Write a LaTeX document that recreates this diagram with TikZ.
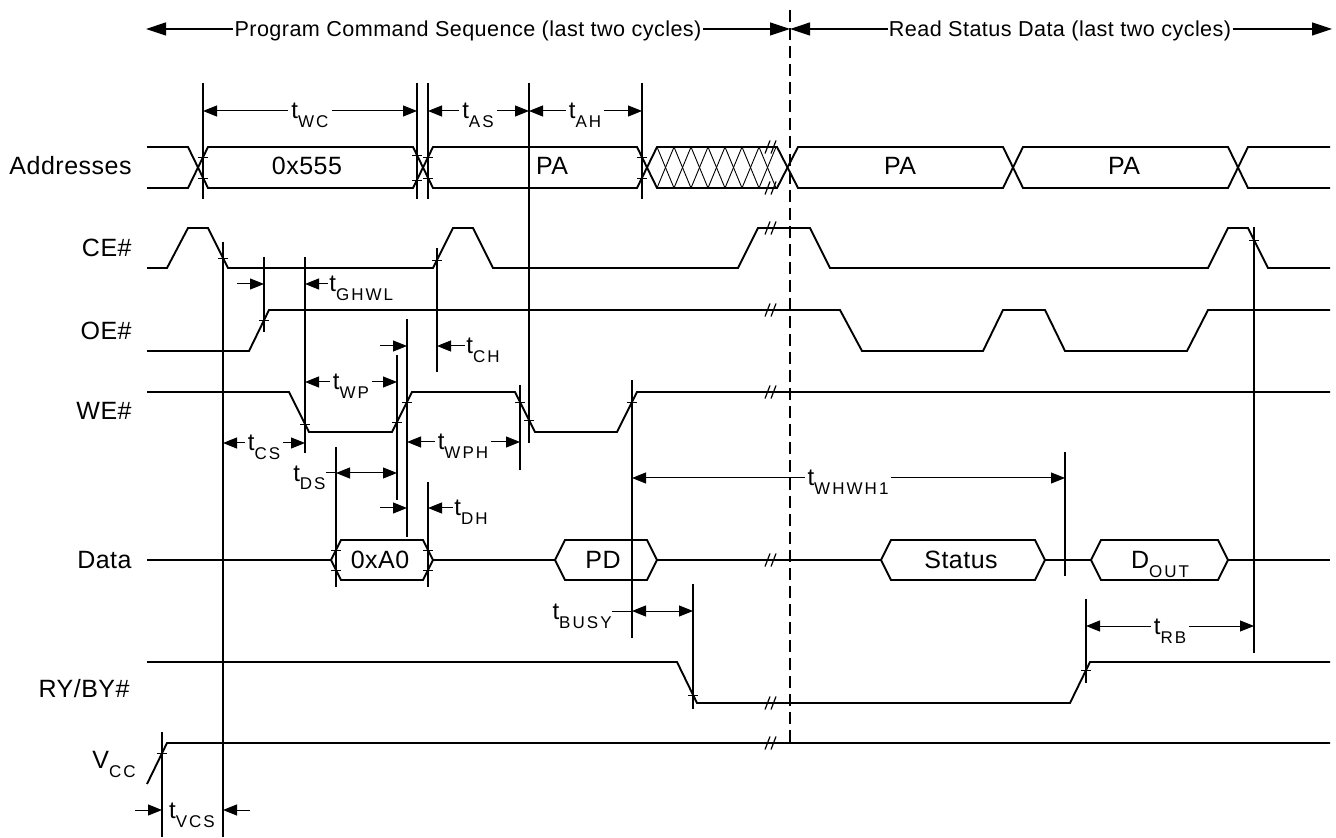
\documentclass[tikz,border=0pt]{standalone}
\usepackage{fontspec}
\setmainfont{Liberation Sans}[LetterSpace=2]
\usetikzlibrary{arrows.meta}
\tikzstyle{sig}=[line width=0.95pt, line join=miter]
\tikzstyle{vline}=[line width=0.75pt]
\tikzstyle{tickln}=[line width=0.4pt]
\tikzstyle{hatch}=[line width=0.45pt]
\tikzstyle{brk}=[line width=0.6pt]
\tikzstyle{dimarr}=[line width=0.5pt, -{Triangle[length=7pt,width=5.5pt]}]
\tikzstyle{dimboth}=[line width=0.5pt, {Triangle[length=7pt,width=5.5pt]}-{Triangle[length=7pt,width=5.5pt]}]
\tikzstyle{hdarrow}=[line width=0.6pt, -{Triangle[length=10pt,width=6.5pt]}]
\tikzstyle{headtxt}=[anchor=base, inner sep=0.5pt, font=\fontsize{10.8}{13}\selectfont]
\tikzstyle{signame}=[anchor=base east, inner sep=0pt, font=\fontsize{12.5}{14}\selectfont]
\tikzstyle{buslab}=[anchor=base, inner sep=0pt, font=\fontsize{12.5}{14}\selectfont]
\tikzstyle{tlab}=[anchor=base, fill=white, inner sep=1.5pt]
\newcommand{\sbx}[1]{\raisebox{-4.5pt}{\fontsize{8.5}{9}\selectfont\addfontfeatures{LetterSpace=12}#1}}
\newcommand{\tnm}[1]{{\fontsize{12}{13}\selectfont t\sbx{#1}}}

\begin{document}
\begin{tikzpicture}[x=0.5pt,y=-0.5pt]
    \useasboundingbox (0,0) rectangle (1336,838);

    % heading arrows
    \coordinate (hA) at (146,29);
    \coordinate (hM) at (790,29);
    \coordinate (hB) at (1332,29);
    \node[headtxt] (prog) at (468,37) {Program Command Sequence (last two cycles)};
    \node[headtxt] (read) at (1060,37) {Read Status Data (last two cycles)};
    \draw[hdarrow] (prog.west |- hA) -- (hA);
    \draw[hdarrow] (prog.east |- hM) -- (hM);
    \draw[hdarrow] (read.west |- hM) -- (hM);
    \draw[hdarrow] (read.east |- hB) -- (hB);
    \draw[line width=0.7pt, dash pattern=on 6pt off 3pt] (790,10) -- (790,745);

    % signal names
    \node[signame] (addr) at (132,175) {Addresses};
    \node[signame] (ce) at (132,257) {CE\#};
    \node[signame] (oe) at (132,340) {OE\#};
    \node[signame] (we) at (132,420) {WE\#};
    \node[signame] (data) at (132,568) {Data};
    \node[signame] (ry) at (130,697) {RY/BY\#};
    \node[signame] (vcc) at (136,768) {V\sbx{CC}};

    % addresses
    \draw[sig] (147,147) -- (188,147) -- (208,188) -- (413,188) -- (433,147) -- (637,147) -- (657,188)
        -- (777,188) -- (798,147) -- (1003,147) -- (1023,188) -- (1228,188) -- (1248,147) -- (1330,147);
    \draw[sig] (147,188) -- (188,188) -- (208,147) -- (413,147) -- (433,188) -- (637,188) -- (657,147)
        -- (777,147) -- (798,188) -- (1003,188) -- (1023,147) -- (1228,147) -- (1248,188) -- (1330,188);
    \foreach \k in {0,...,6} {
        \draw[hatch] ({657+17*\k},147) -- ({674+17*\k},188);
        \draw[hatch] ({657+17*\k},188) -- ({674+17*\k},147);
    }
    \node[buslab] (a1) at (307,175) {0x555};
    \node[buslab] (a2) at (552,175) {PA};
    \node[buslab] (a3) at (900,175) {PA};
    \node[buslab] (a4) at (1124,175) {PA};

    % CE#, OE#, WE#
    \draw[sig] (147,268) -- (167,268) -- (188,228) -- (208,228) -- (228,268) -- (433,268) -- (453,228)
        -- (473,228) -- (493,268) -- (738,268) -- (758,228) -- (810,228) -- (830,268) -- (1208,268)
        -- (1228,228) -- (1248,228) -- (1268,268) -- (1330,268);
    \draw[sig] (147,351) -- (249,351) -- (269,310) -- (840,310) -- (862,351) -- (983,351) -- (1003,310)
        -- (1045,310) -- (1065,351) -- (1187,351) -- (1208,310) -- (1330,310);
    \draw[sig] (147,392) -- (289,392) -- (309,432) -- (392,432) -- (412,392) -- (515,392) -- (535,432)
        -- (617,432) -- (637,392) -- (1330,392);

    % data
    \draw[sig] (147,560) -- (331,560) -- (341,540) -- (423,540) -- (433,560) -- (423,580) -- (341,580) -- (331,560);
    \draw[sig] (433,560) -- (555,560) -- (565,540) -- (647,540) -- (657,560) -- (647,580) -- (565,580) -- (555,560);
    \draw[sig] (657,560) -- (881,560) -- (891,540) -- (1035,540) -- (1045,560) -- (1035,580) -- (891,580) -- (881,560);
    \draw[sig] (1045,560) -- (1091,560) -- (1101,540) -- (1218,540) -- (1228,560) -- (1218,580) -- (1101,580) -- (1091,560);
    \draw[sig] (1228,560) -- (1330,560);
    \node[buslab] (d1) at (380,568) {0xA0};
    \node[buslab] (d2) at (603,568) {PD};
    \node[buslab] (d3) at (961,568) {Status};
    \node[buslab] (d4) at (1160,568) {D\sbx{OUT}};

    % RY/BY# and Vcc
    \draw[sig] (147,662) -- (677,662) -- (697,703) -- (1070,703) -- (1090,662) -- (1330,662);
    \draw[sig] (147,784) -- (167,743) -- (1330,743);

    % reference lines
    \foreach \x/\ya/\yb in {203/83/199, 417/83/199, 428/83/199, 529/83/443, 642/83/199, 223/242/837,
        264/257/332, 305/257/453, 437/248/372, 397/355/500, 407/319/537, 520/385/470, 632/380/638,
        336/447/587, 428/482/587, 1065/452/576, 1254/227/653, 693/584/709, 1086/599/683, 162/732/837}
        \draw[vline] (\x,\ya) -- (\x,\yb);
    \foreach \x/\y in {203/157, 203/178, 417/155, 417/180, 428/157, 428/178, 642/157, 642/178,
        223/258, 437/260, 1254/240, 264/320, 305/424, 397/422, 407/402, 520/402, 529/420, 632/402,
        336/550, 336/570, 428/550, 428/570, 693/695, 1086/670, 162/753}
        \draw[tickln] ({\x-5},\y) -- ({\x+5},\y);
    \foreach \y in {147,188,228,310,392,560,703,743} {
        \draw[brk] (765,{\y+6.5}) -- (770,{\y-6.5});
        \draw[brk] (771,{\y+6.5}) -- (776,{\y-6.5});
    }

    % timing parameters
    \draw[dimboth] (203,111) -- (417,111);
    \node[tlab] (twc) at (310,119) {\tnm{WC}};
    \draw[dimboth] (428,111) -- (529,111);
    \node[tlab] (tas) at (478,119) {\tnm{AS}};
    \draw[dimboth] (529,111) -- (642,111);
    \node[tlab] (tah) at (585,119) {\tnm{AH}};

    \draw[dimarr] (237,284) -- (264,284);
    \draw[dimarr] (328,284) -- (305,284);
    \node[anchor=base west, inner sep=0pt] (tghwl) at (329,292) {\tnm{GHWL}};

    \draw[dimarr] (380,346) -- (407,346);
    \draw[dimarr] (465,346) -- (437,346);
    \node[anchor=base west, inner sep=0pt] (tch) at (466,354) {\tnm{CH}};

    \draw[dimboth] (305,382) -- (397,382);
    \node[tlab] (twp) at (351,390) {\tnm{WP}};
    \draw[dimboth] (223,443) -- (305,443);
    \node[tlab] (tcs) at (264,451) {\tnm{CS}};
    \draw[dimboth] (407,442) -- (520,442);
    \node[tlab] (twph) at (463,450) {\tnm{WPH}};

    \node[anchor=base east, inner sep=0pt] (tds) at (326,481) {\tnm{DS}};
    \draw[line width=0.5pt] (tds.east |- 0,473) -- (336,473);
    \draw[dimboth] (336,473) -- (397,473);

    \draw[dimarr] (380,508) -- (407,508);
    \draw[dimarr] (453,508) -- (428,508);
    \node[anchor=base west, inner sep=0pt] (tdh) at (454,516) {\tnm{DH}};

    \node[anchor=base, inner sep=1pt] (twhwh) at (848,486) {\tnm{WHWH1}};
    \draw[dimarr] (twhwh.west |- 0,478) -- (632,478);
    \draw[dimarr] (twhwh.east |- 0,478) -- (1065,478);

    \node[anchor=base east, inner sep=0pt] (tbusy) at (612,619) {\tnm{BUSY}};
    \draw[line width=0.5pt] (tbusy.east |- 0,611) -- (632,611);
    \draw[dimboth] (632,611) -- (693,611);

    \draw[dimboth] (1086,626) -- (1254,626);
    \node[tlab] (trb) at (1170,634) {\tnm{RB}};

    \draw[dimarr] (135,810) -- (162,810);
    \draw[dimarr] (250,810) -- (223,810);
    \node[anchor=base, inner sep=0pt] (tvcs) at (192,818) {\tnm{VCS}};
\end{tikzpicture}
\end{document}
